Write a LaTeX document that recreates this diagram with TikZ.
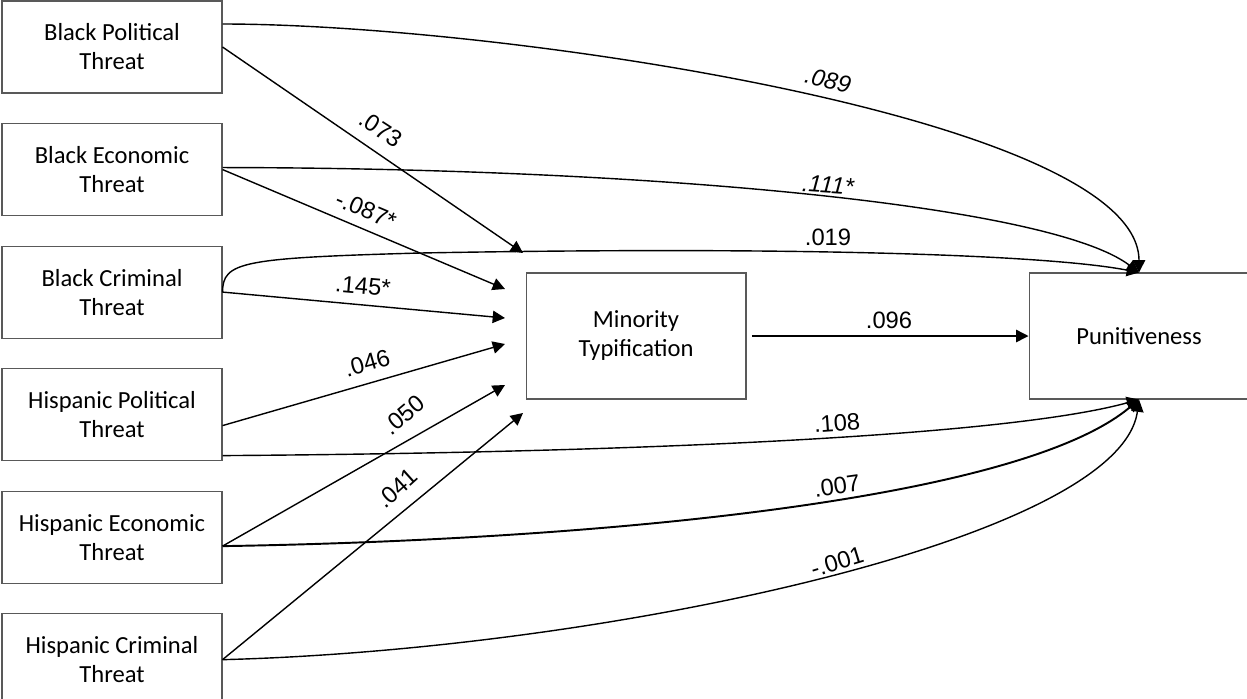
\documentclass[tikz,border=0pt]{standalone}
\usepackage{fontspec}
\setmainfont{Carlito}
\newfontfamily\coeffont{Liberation Sans}
\usetikzlibrary{arrows.meta, positioning, calc}

\begin{document}
\begin{tikzpicture}[
  x=0.02cm, y=-0.02cm,
  box/.style={rectangle, draw=black!65, line width=0.6pt,
    minimum width=4.4cm, minimum height=1.84cm, align=center,
    font=\fontsize{14}{16.5}\selectfont},
  bigbox/.style={box, minimum height=2.52cm},
  coef/.style={font=\coeffont\fontsize{13.5}{16}\selectfont, inner sep=0pt},
  arr/.style={-{Triangle[length=7pt, width=7pt]}, line width=0.8pt},
  node distance=0.59cm
]
  \useasboundingbox (0,0) rectangle (1247,698);

  % threat measures
  \node[box] (bpt) at (112,47) {Black Political\\Threat};
  \node[box, below=of bpt] (bet) {Black Economic\\Threat};
  \node[box, below=of bet] (bct) {Black Criminal\\Threat};
  \node[box, below=of bct] (hpt) {Hispanic Political\\Threat};
  \node[box, below=of hpt] (het) {Hispanic Economic\\Threat};
  \node[box, below=of het] (hct) {Hispanic Criminal\\Threat};

  % mediator and outcome
  \node[bigbox] (mt) at (636,336) {Minority\\Typification};
  \node[bigbox] (pun) at (1139,336) {Punitiveness};

  % arrow tips short of the mediator
  \coordinate (in1) at (523,253);
  \coordinate (in2) at (505,289);
  \coordinate (in3) at (505,318);
  \coordinate (in4) at (505,344);
  \coordinate (in5) at (505,385);
  \coordinate (in6) at (523,413);

  % paths to the mediator
  \draw[arr] (bpt.east) -- (in1);
  \draw[arr] (bet.east) -- (in2);
  \draw[arr] (bct.east) -- (in3);
  \draw[arr] ($(hpt.east)+(0,11)$) -- (in4);
  \draw[arr] ($(het.east)+(0,9)$) -- (in5);
  \draw[arr] (hct.east) -- (in6);
  \draw[arr, shorten <=3pt] (mt) -- (pun);

  % direct paths, top
  \draw[arr] ($(bpt.east)+(0,-23)$) .. controls (500,24) and (1139,118) .. (pun.north);
  \draw[arr] ($(bet.east)+(0,-2)$) .. controls (650,168) and (1050,205) .. (pun.north);
  \draw[arr] (bct.east) .. controls (223,262) and (240,258) .. (420,253)
    .. controls (800,246) and (1050,255) .. (pun.north);

  % direct paths, bottom
  \draw[arr] ($(hpt.east)+(0,41)$) .. controls (600,453) and (1000,438) .. (pun.south);
  \draw[arr, line width=1.1pt] ($(het.east)+(0,9)$) .. controls (600,540) and (1020,500) .. (pun.south);
  \draw[arr] (hct.east) .. controls (600,650) and (1120,540) .. (pun.south);

  % coefficients
  \node[coef, rotate=-33] (c1) at (381,129) {.073};
  \node[coef, rotate=-23] (c2) at (366,210) {-.087*};
  \node[coef, rotate=-5] (c3) at (363,286) {.145*};
  \node[coef, rotate=16] (c4) at (367,363) {.046};
  \node[coef, rotate=40] (c5) at (404,415) {.050};
  \node[coef, rotate=42] (c6) at (397,488) {.041};
  \node[coef, rotate=-13, font=\coeffont\itshape\fontsize{13.5}{16}\selectfont] (c7) at (828,80) {.089};
  \node[coef, rotate=-4, font=\coeffont\itshape\fontsize{13.5}{16}\selectfont] (c8) at (828,185) {.111*};
  \node[coef] (c9) at (828,237) {.019};
  \node[coef] (c10) at (889,320) {.096};
  \node[coef, rotate=4] (c11) at (837,423) {.108};
  \node[coef, rotate=8] (c12) at (837,486) {.007};
  \node[coef, rotate=17] (c13) at (837,562) {-.001};
\end{tikzpicture}
\end{document}
